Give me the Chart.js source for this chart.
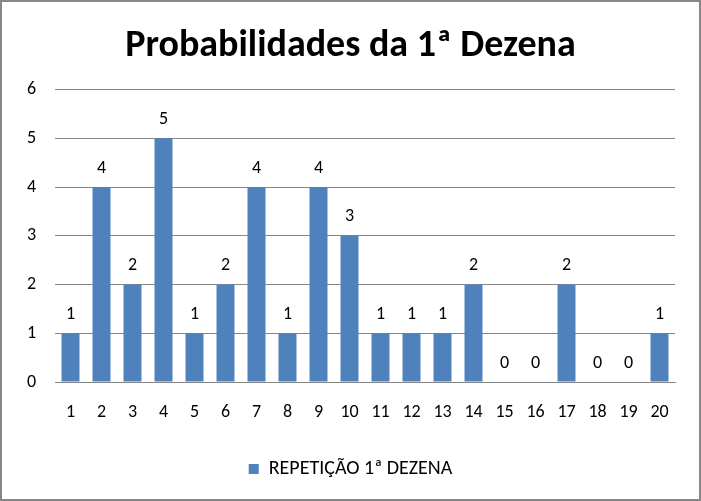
<!DOCTYPE html>
<html>
<head>
<meta charset="utf-8">
<script src="https://cdn.jsdelivr.net/npm/chart.js@4"></script>
<style>
  body { margin: 0; background: #fff; }
  #box {
    width: 701px; height: 501px; box-sizing: border-box;
    border: 2px solid #878787; background: #fff;
  }
</style>
</head>
<body>
<div id="box"><canvas id="myChart" width="697" height="497"></canvas></div>
<script>
// Chart data
const categories = ["1","2","3","4","5","6","7","8","9","10","11","12","13","14","15","16","17","18","19","20"];
const repeticao = [1, 4, 2, 5, 1, 2, 4, 1, 4, 3, 1, 1, 1, 2, 0, 0, 2, 0, 0, 1];
const yTicks = [0, 1, 2, 3, 4, 5, 6];

const fontName = "'Carlito', 'Liberation Sans Narrow', 'Liberation Sans', sans-serif";

// draws the value above each bar
const valueLabels = {
  id: "valueLabels",
  afterDatasetsDraw(chart) {
    const ctx = chart.ctx;
    const meta = chart.getDatasetMeta(0);
    ctx.save();
    ctx.font = "18px " + fontName;
    ctx.fillStyle = "#000";
    ctx.textAlign = "center";
    ctx.textBaseline = "bottom";
    meta.data.forEach((bar, i) => {
      ctx.fillText(repeticao[i], bar.x, bar.y - 10);
    });
    ctx.restore();
  }
};

const ctx = document.querySelector("#myChart").getContext("2d");
const myChart = new Chart(ctx, {
  type: "bar",
  data: {
    labels: categories,
    datasets: [
      {
        label: "REPETIÇÃO 1ª DEZENA",
        data: repeticao,
        backgroundColor: "#4f81bd",
        barPercentage: 0.58,
        categoryPercentage: 1.0,
      },
    ],
  },
  options: {
    responsive: false,
    animation: false,
    layout: { padding: { left: 0, right: 0, top: 14, bottom: 10 } },
    scales: {
      y: {
        min: 0,
        max: 6,
        afterBuildTicks: (scale) => {
          scale.ticks = yTicks.map((v) => ({ value: v }));
        },
        afterFit: (scale) => {
          scale.width = 53;
        },
        grid: { color: "#868686", drawTicks: false },
        border: { display: false },
        ticks: {
          padding: 19,
          color: "#000",
          font: { size: 18, family: fontName },
        },
      },
      // empty space on the right side of the plot
      yRight: {
        position: "right",
        grid: { display: false, drawTicks: false },
        border: { display: false },
        ticks: { display: false },
        afterFit: (scale) => {
          scale.width = 24;
        },
      },
      x: {
        grid: { display: false, drawTicks: false },
        border: { display: true, color: "#868686" },
        afterFit: (scale) => {
          scale.height = 59;
        },
        ticks: {
          padding: 20,
          color: "#000",
          maxRotation: 0,
          autoSkip: false,
          font: { size: 18, family: fontName },
        },
      },
    },
    plugins: {
      title: {
        display: true,
        text: "Probabilidades da 1ª Dezena",
        color: "#000",
        font: { size: 38, weight: "bold", family: fontName },
        padding: { top: 8, bottom: 20 },
      },
      legend: {
        position: "bottom",
        labels: {
          boxWidth: 10,
          boxHeight: 10,
          color: "#000",
          padding: 18,
          font: { size: 20, family: fontName },
        },
      },
      tooltip: { enabled: false },
    },
  },
  plugins: [valueLabels],
});
</script>
</body>
</html>
